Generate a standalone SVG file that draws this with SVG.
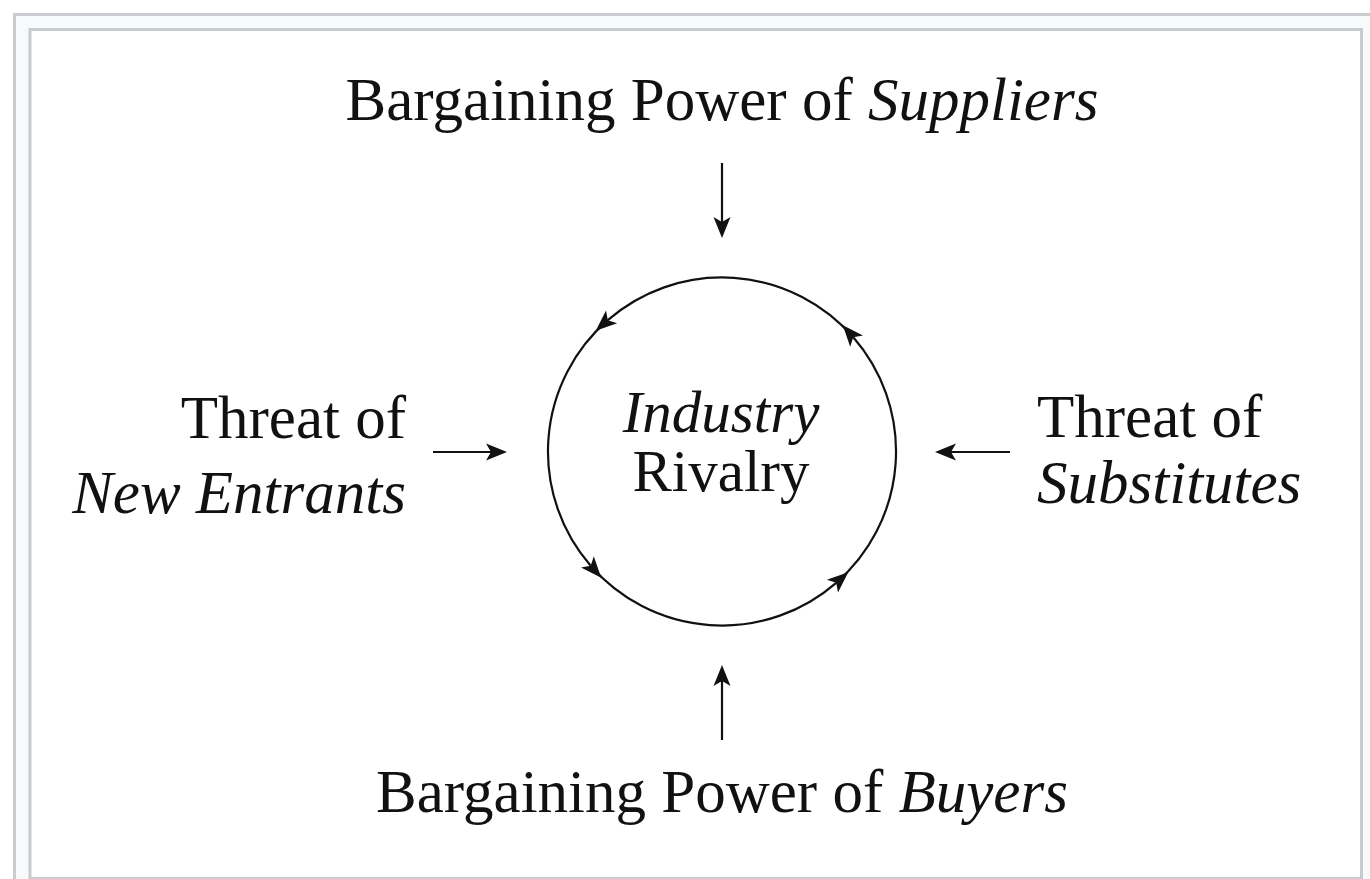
<svg xmlns="http://www.w3.org/2000/svg" width="1370" height="879" viewBox="0 0 1370 879">
<style>
.t{font-family:"Liberation Serif","Times New Roman",serif;font-size:61px;fill:#111}
.c{font-size:59px}
.i{font-style:italic}
.ln{stroke:#111;stroke-width:2.2;fill:none}
</style>
<defs>
<marker id="ah" viewBox="-8 -10 26 20" markerWidth="26" markerHeight="20" refX="0" refY="0" orient="auto" markerUnits="userSpaceOnUse">
<path d="M16,0 L-5,-8.5 L0,0 L-5,8.5 Z" fill="#111"/>
</marker>
</defs>
<g id="frame">
<rect x="14.5" y="14.5" width="1380" height="900" fill="#f8f9fa" stroke="#c8ccd1" stroke-width="3"/>
<rect x="30" y="29.5" width="1331.5" height="849" fill="#ffffff" stroke="#c8ccd1" stroke-width="3"/>
</g>
<g id="connectors">
<line class="ln" x1="722" y1="163" x2="722" y2="222" marker-end="url(#ah)"/>
<line class="ln" x1="722" y1="740" x2="722" y2="681" marker-end="url(#ah)"/>
<line class="ln" x1="433" y1="452" x2="491" y2="452" marker-end="url(#ah)"/>
<line class="ln" x1="1010" y1="452" x2="951" y2="452" marker-end="url(#ah)"/>
</g>
<g id="rivalry">
<path class="ln" d="M836.2,582.8 A174,174 0 0 0 853.3,337.3" marker-end="url(#ah)"/>
<path class="ln" d="M853.3,337.3 A174,174 0 0 0 607.8,320.2" marker-end="url(#ah)"/>
<path class="ln" d="M607.8,320.2 A174,174 0 0 0 590.7,565.7" marker-end="url(#ah)"/>
<path class="ln" d="M590.7,565.7 A174,174 0 0 0 836.2,582.8" marker-end="url(#ah)"/>
<text class="t c i" x="721" y="432" text-anchor="middle">Industry</text>
<text class="t c" x="721" y="491" text-anchor="middle">Rivalry</text>
</g>
<g id="suppliers">
<text class="t" x="722" y="120" text-anchor="middle">Bargaining Power of <tspan class="i">Suppliers</tspan></text>
</g>
<g id="buyers">
<text class="t" x="722" y="812" text-anchor="middle">Bargaining Power of <tspan class="i">Buyers</tspan></text>
</g>
<g id="new-entrants">
<text class="t" x="406" y="438" text-anchor="end">Threat of</text>
<text class="t i" x="406" y="513" text-anchor="end">New Entrants</text>
</g>
<g id="substitutes">
<text class="t" x="1037" y="437">Threat of</text>
<text class="t i" x="1037" y="503">Substitutes</text>
</g>
</svg>
